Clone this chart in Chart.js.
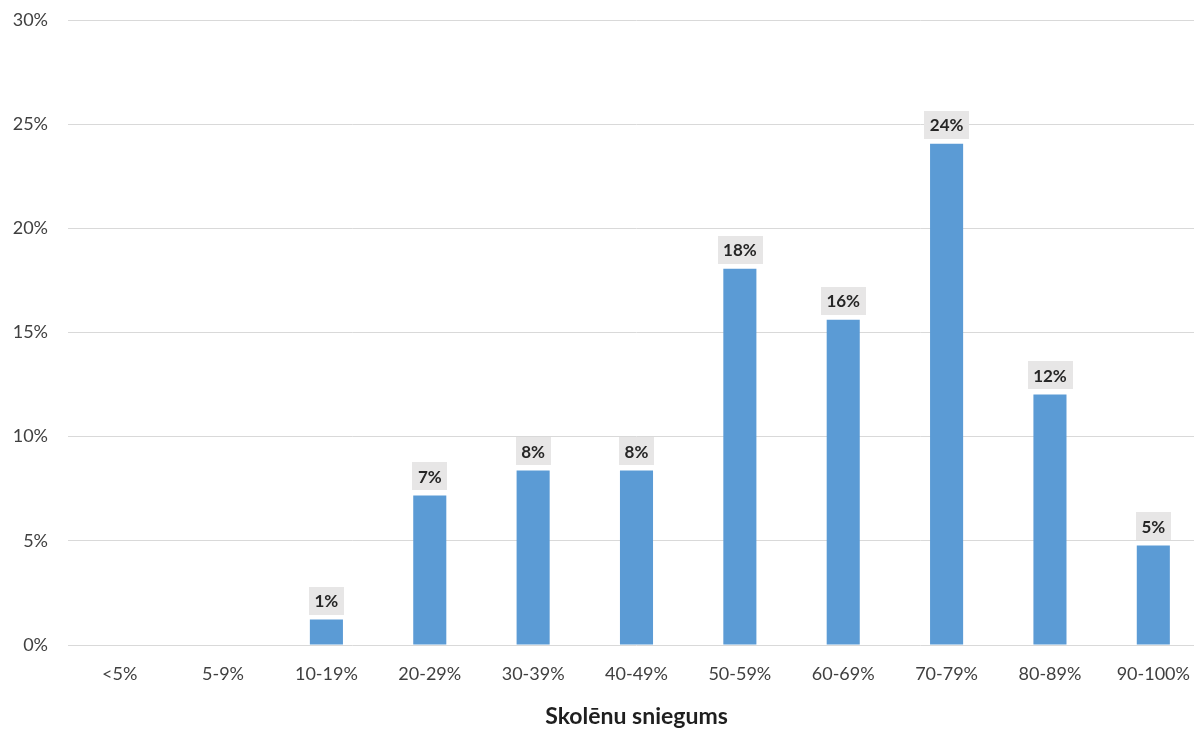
<!DOCTYPE html>
<html>
<head>
<meta charset="utf-8">
<script src="https://cdn.jsdelivr.net/npm/chart.js@4/dist/chart.umd.min.js"></script>
<style>
html,body{margin:0;padding:0;background:#fff;overflow:hidden;width:1194px;height:730px;}
canvas{display:block;}
</style>
</head>
<body>
<canvas id="c" width="1205" height="730" style="width:1205px;height:730px"></canvas>
<script>
const categories = ['<5%', '5-9%', '10-19%', '20-29%', '30-39%', '40-49%', '50-59%', '60-69%', '70-79%', '80-89%', '90-100%'];
const values = [null, null, 1.22, 7.18, 8.38, 8.38, 18.06, 15.61, 24.06, 12.03, 4.78];
const axisTitle = 'Skolēnu sniegums';
const yMin = 0, yMax = 30, yStep = 5;

const FONT = 'Lato, "Open Sans", sans-serif';

const labelPlugin = {
  id: 'barLabels',
  afterDatasetsDraw(chart) {
    const ctx = chart.ctx;
    const meta = chart.getDatasetMeta(0);
    meta.data.forEach((bar, i) => {
      const v = values[i];
      if (v == null) return;
      const txt = Math.round(v) + '%';
      ctx.save();
      ctx.font = 'bold 17px ' + FONT;
      const w = ctx.measureText(txt).width + 11;
      const h = 28;
      const x = bar.x, yb = bar.y - 5;
      ctx.fillStyle = '#E7E6E6';
      ctx.fillRect(Math.round(x - w / 2), Math.round(yb - h), Math.round(w), h);
      ctx.fillStyle = '#262626';
      ctx.textAlign = 'center';
      ctx.textBaseline = 'middle';
      ctx.fillText(txt, x, yb - h / 2 + 1);
      ctx.restore();
    });
  }
};

new Chart(document.getElementById('c'), {
  type: 'bar',
  data: {
    labels: categories,
    datasets: [{
      data: values,
      backgroundColor: '#5B9BD5',
      borderWidth: 0,
      barPercentage: 0.32,
      categoryPercentage: 1.0
    }]
  },
  options: {
    responsive: false,
    animation: false,
    events: [],
    layout: { padding: { top: 20, right: 0, bottom: 0, left: 0 } },
    plugins: { legend: { display: false }, tooltip: { enabled: false } },
    scales: {
      x: {
        grid: { display: false, drawTicks: false },
        border: { display: false },
        ticks: { color: '#404040', font: { family: FONT, size: 18 }, padding: 18, maxRotation: 0, autoSkip: false },
        title: { display: true, text: axisTitle, color: '#1f1f1f', font: { family: FONT, size: 23, weight: 'bold' }, padding: { top: 0, bottom: 0 } },
        afterFit(s) { s.height = 85; s.paddingLeft = 0; s.paddingRight = 0; }
      },
      y: {
        min: yMin, max: yMax,
        grid: { color: '#D9D9D9', lineWidth: 1, drawTicks: false },
        border: { display: false },
        ticks: { stepSize: yStep, color: '#404040', font: { family: FONT, size: 18 }, padding: 20, callback: v => v + '%' },
        afterFit(s) { s.width = 68; s.paddingTop = 0; s.paddingBottom = 0; }
      }
    }
  },
  plugins: [labelPlugin]
});
</script>
</body>
</html>
